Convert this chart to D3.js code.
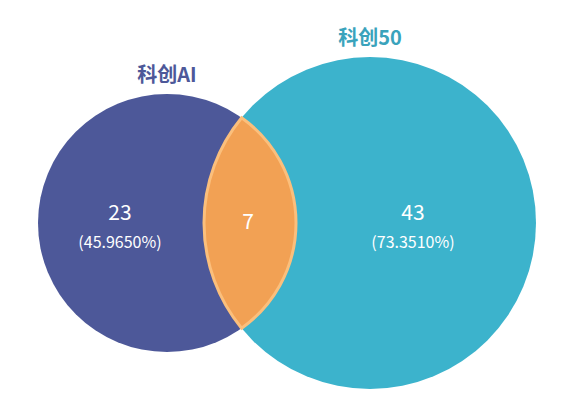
<!DOCTYPE html><html><head><meta charset="utf-8"><script src="https://cdn.jsdelivr.net/npm/d3@7"></script>
<style>body{margin:0;background:#fff}</style></head><body><svg width="585" height="420"></svg><script>
const sets=["科创AI","科创50"];
const onlyCounts=[23,43];
const overlapCount=7;
const pctLabels=["(45.9650%)","(73.3510%)"];
const radiiData=[129,166];
const centersX=[167,370];
const colors=["#4d5899","#3cb3cc"];
const svg=d3.select("svg");
const cy=223;
const r=d3.scaleLinear().domain([0,1]).range([0,1]);
const C=[{x:centersX[0],y:cy,r:r(radiiData[0])},{x:centersX[1],y:cy,r:r(radiiData[1])}];
C.forEach((c,i)=>svg.append("circle").attr("cx",c.x).attr("cy",c.y).attr("r",c.r).attr("fill",colors[i]));
// lens
const d=C[1].x-C[0].x;
const a=(d*d+C[0].r*C[0].r-C[1].r*C[1].r)/(2*d);
const h=Math.sqrt(C[0].r*C[0].r-a*a);
const px=C[0].x+a;
const p=d3.path();
p.moveTo(px,cy-h);
p.arcTo; 
const lens=`M${px},${cy-h} A${C[0].r},${C[0].r} 0 0 1 ${px},${cy+h} A${C[1].r},${C[1].r} 0 0 1 ${px},${cy-h}Z`;
svg.append("path").attr("d",lens).attr("fill","#f2a154").attr("stroke","#fbbf7c").attr("stroke-width",3);
const f="'Microsoft YaHei','Noto Sans CJK SC','Noto Sans',sans-serif";
svg.append("text").attr("x",167).attr("y",82).attr("text-anchor","middle").attr("font-family",f).attr("font-weight","bold").attr("font-size",20).attr("fill",colors[0]).text(sets[0]);
svg.append("text").attr("x",370).attr("y",45).attr("text-anchor","middle").attr("font-family",f).attr("font-weight","bold").attr("font-size",20).attr("fill","#3aa3bc").text(sets[1]);
const lx=[120,413];
lx.forEach((x,i)=>{
 svg.append("text").attr("x",x).attr("y",220).attr("text-anchor","middle").attr("font-family",f).attr("font-size",21).attr("fill","#fff").text(onlyCounts[i]);
 svg.append("text").attr("x",x).attr("y",248).attr("text-anchor","middle").attr("font-family",f).attr("font-size",16).attr("fill","#fff").text(pctLabels[i]);
});
svg.append("text").attr("x",248).attr("y",229).attr("text-anchor","middle").attr("font-family",f).attr("font-size",21).attr("fill","#fff").text(overlapCount);
</script></body></html>
